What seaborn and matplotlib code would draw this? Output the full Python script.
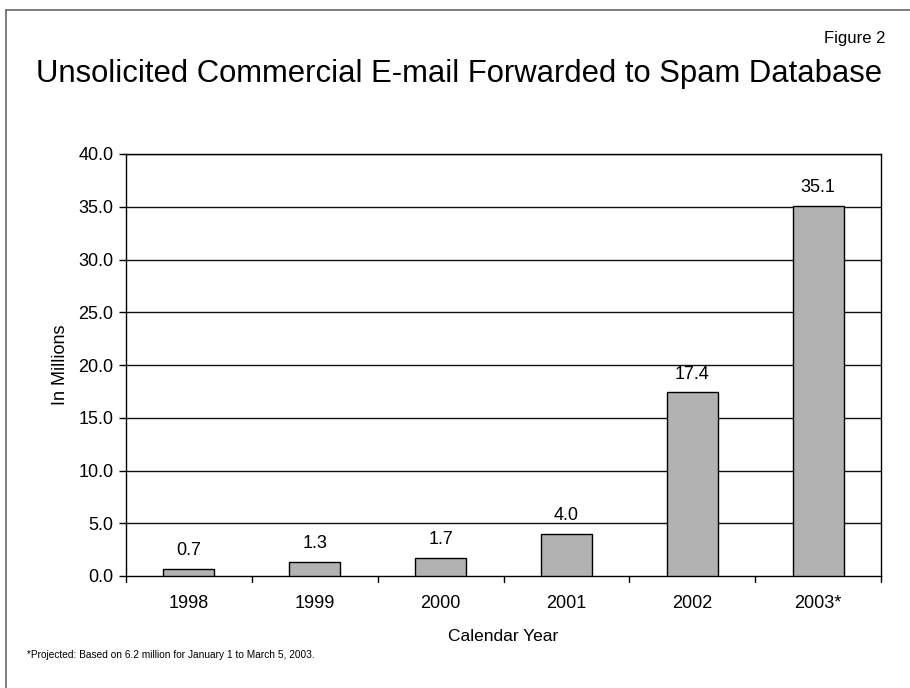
import matplotlib
matplotlib.use("Agg")
import matplotlib.pyplot as plt
import seaborn as sns
import pandas as pd
from matplotlib.lines import Line2D

years = ["1998", "1999", "2000", "2001", "2002", "2003*"]
values = [0.7, 1.3, 1.7, 4.0, 17.4, 35.1]
yticks = [0, 5, 10, 15, 20, 25, 30, 35, 40]

df = pd.DataFrame({"year": years, "value": values})

sns.set_theme(style="white")
plt.rcParams["font.family"] = ["Liberation Sans", "DejaVu Sans"]
plt.rcParams["text.color"] = "black"
plt.rcParams["axes.labelcolor"] = "black"
plt.rcParams["xtick.color"] = "black"
plt.rcParams["ytick.color"] = "black"

W, H = 910, 688
fig = plt.figure(figsize=(W / 100, H / 100), dpi=100)
ax = fig.add_axes([126 / W, 1 - 576 / H, (881 - 126) / W, (576 - 154) / H])

sns.barplot(data=df, x="year", y="value", ax=ax, color="#b2b2b2",
            saturation=1, width=0.405, edgecolor="black", linewidth=1, zorder=3)

ax.set_ylim(0, 40)
ax.set_xlim(-0.5, len(years) - 0.5)
ax.set_yticks(yticks)
ax.set_yticklabels([f"{v:.1f}" for v in yticks], fontsize=13)
for y in yticks[1:]:
    ax.axhline(y, color="#111111", lw=1, zorder=1)

ax.set_xticks(range(len(years)))
ax.set_xticklabels(years, fontsize=13)
ax.tick_params(axis="x", length=0, pad=14)
ax.tick_params(axis="y", length=5, width=1, color="black", direction="out", left=True, pad=4)
# category boundary ticks
for b in range(len(years) + 1):
    ax.plot([b - 0.5, b - 0.5], [0, -0.014], transform=ax.get_xaxis_transform(),
            color="black", lw=1, clip_on=False, zorder=4)

for s in ax.spines.values():
    s.set_color("black")
    s.set_linewidth(1)
    s.set_visible(True)

for i, v in enumerate(values):
    ax.annotate(f"{v:.1f}", (i, v), xytext=(0, 10), textcoords="offset points",
                ha="center", va="baseline", fontsize=13)

ax.set_xlabel("Calendar Year", fontsize=12.5, labelpad=12)
ax.set_ylabel("In Millions", fontsize=13, labelpad=7)

fig.text(36 / W, 1 - 82 / H, "Unsolicited Commercial E-mail Forwarded to Spam Database",
         fontsize=22.3, ha="left", va="baseline")
fig.text(885 / W, 1 - 43 / H, "Figure 2", fontsize=12, ha="right", va="baseline")
fig.text(27 / W, 1 - 658 / H, "*Projected: Based on 6.2 million for January 1 to March 5, 2003.",
         fontsize=7.3, ha="left", va="baseline")

# outer frame (left and top edges visible)
fig.add_artist(Line2D([5.5 / W, 5.5 / W], [0, 1 - 10 / H], transform=fig.transFigure,
                      color="#666666", lw=1.2))
fig.add_artist(Line2D([5.5 / W, 1], [1 - 10 / H, 1 - 10 / H], transform=fig.transFigure,
                      color="#666666", lw=1.2))

fig.savefig("out.png", dpi=100, facecolor="white")
